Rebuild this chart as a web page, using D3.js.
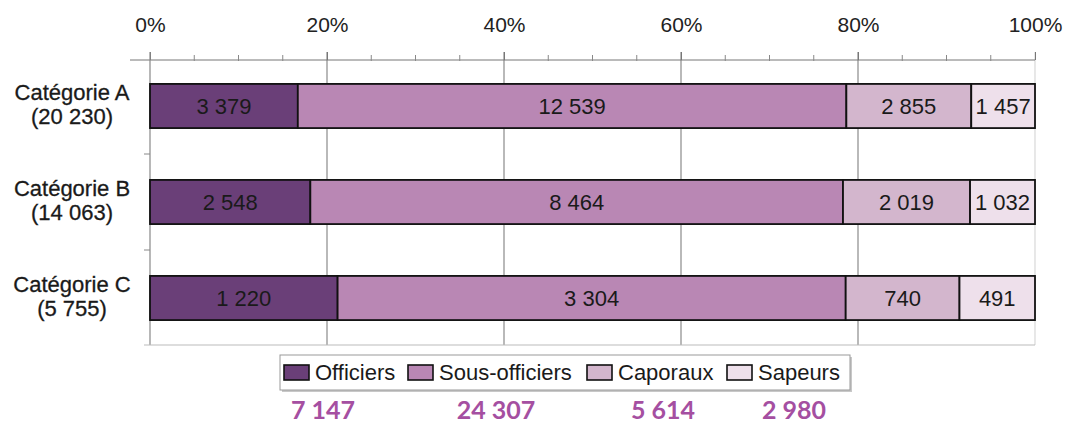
<!DOCTYPE html>
<html><head><meta charset="utf-8">
<script src="https://cdn.jsdelivr.net/npm/d3@7"></script>
<style>body{margin:0;background:#fff}svg{display:block}</style>
</head><body>
<svg id="c" width="1068" height="423"></svg>
<script>
const categories = ["Catégorie A", "Catégorie B", "Catégorie C"];
const categoryTotals = ["(20 230)", "(14 063)", "(5 755)"];
const series = ["Officiers", "Sous-officiers", "Caporaux", "Sapeurs"];
const officiers = [3379, 2548, 1220];
const sousOfficiers = [12539, 8464, 3304];
const caporaux = [2855, 2019, 740];
const sapeurs = [1457, 1032, 491];
const seriesTotals = ["7 147", "24 307", "5 614", "2 980"];
const xTicks = [0, 0.2, 0.4, 0.6, 0.8, 1];

const colors = ["#6a3f78", "#b987b4", "#d3b6cd", "#eee0eb"];
const fmt = v => d3.format(",")(v).replace(/,/g, " ");

const svg = d3.select("#c");
const x = d3.scaleLinear().domain([0, 1]).range([150, 1035]);
const y = d3.scaleBand().domain(categories).range([58, 346]).paddingInner(0.54).paddingOuter(0.27);
const yBottom = 345;

const font = "'Liberation Sans', Arial, sans-serif";

// gridlines
svg.append("g").selectAll("line").data(xTicks.slice(1)).join("line")
  .attr("x1", d => x(d)).attr("x2", d => x(d)).attr("y1", 52).attr("y2", yBottom)
  .attr("stroke", d => d === 1 ? "#d8d8d8" : "#8a8a8a").attr("stroke-width", 1.2);

// top axis
const xAxis = d3.axisTop(x).tickValues(xTicks).tickFormat(d3.format(".0%")).tickSize(8).tickPadding(20);
const gx = svg.append("g").attr("transform", "translate(0,60)").call(xAxis);
gx.select(".domain").attr("stroke", "#777").attr("d", `M${x(0)-20},0H${x(1)}`);
gx.selectAll(".tick line").attr("stroke", "#777");
gx.selectAll("text").attr("font-family", font).attr("font-size", 21).attr("fill", "#222");
// minor ticks
svg.append("g").selectAll("line").data(d3.range(0.05, 1, 0.05).filter(v => Math.round(v*100) % 20 !== 0)).join("line")
  .attr("x1", d => x(d)).attr("x2", d => x(d)).attr("y1", 55).attr("y2", 61)
  .attr("stroke", "#888");

// left axis line and category ticks
svg.append("line").attr("x1", x(0)).attr("x2", x(0)).attr("y1", 52).attr("y2", yBottom).attr("stroke", "#888").attr("stroke-width", 1.2);
svg.append("line").attr("x1", x(0) - 6).attr("x2", x(1)).attr("y1", yBottom).attr("y2", yBottom).attr("stroke", "#bbb").attr("stroke-width", 1.2);
const bounds = categories.slice(1).map(c => y(c) - y.step() * y.paddingInner() / 2);
svg.append("g").selectAll("line").data(bounds).join("line")
  .attr("x1", x(0) - 6).attr("x2", x(0)).attr("y1", d => d).attr("y2", d => d).attr("stroke", "#888");

// stacked data
const rows = categories.map((c, i) => {
  const vals = [officiers[i], sousOfficiers[i], caporaux[i], sapeurs[i]];
  const tot = d3.sum(vals);
  let acc = 0;
  return vals.map((v, j) => { const s = acc / tot; acc += v; return {cat: c, j, v, x0: s, x1: acc / tot}; });
}).flat();

const bars = svg.append("g");
bars.selectAll("rect").data(rows).join("rect")
  .attr("x", d => x(d.x0)).attr("width", d => x(d.x1) - x(d.x0))
  .attr("y", d => y(d.cat)).attr("height", y.bandwidth())
  .attr("fill", d => colors[d.j]).attr("stroke", "#111").attr("stroke-width", 1.8);
bars.selectAll("text").data(rows).join("text")
  .attr("x", d => (x(d.x0) + x(d.x1)) / 2).attr("y", d => y(d.cat) + y.bandwidth() / 2)
  .attr("dy", "0.36em").attr("text-anchor", "middle")
  .attr("font-family", font).attr("font-size", 22).attr("fill", "#1a1a1a")
  .text(d => fmt(d.v));

// category labels
const cl = svg.append("g").selectAll("text").data(categories).join("text")
  .attr("text-anchor", "middle").attr("font-family", font).attr("font-size", 22).attr("fill", "#1a1a1a")
  .attr("stroke", "#1a1a1a").attr("stroke-width", 0.3);
cl.append("tspan").attr("x", 72).attr("y", d => y(d) + y.bandwidth() / 2 - 6).text(d => d);
cl.append("tspan").attr("x", 72).attr("y", (d, i) => y(d) + y.bandwidth() / 2 + 18).text((d, i) => categoryTotals[i]);

// legend
svg.append("rect").attr("x", 282).attr("y", 357).attr("width", 570).attr("height", 35).attr("fill", "#c8c8c8");
svg.append("rect").attr("x", 280).attr("y", 355).attr("width", 570).attr("height", 35).attr("fill", "#fff").attr("stroke", "#999");
const legX = [284, 408, 587, 727];
const lg = svg.append("g").selectAll("g").data(series).join("g")
  .attr("transform", (d, i) => `translate(${legX[i]},365)`);
lg.append("rect").attr("width", 25).attr("height", 15).attr("fill", (d, i) => colors[i]).attr("stroke", "#111").attr("stroke-width", 1.6);
lg.append("text").attr("x", 31).attr("y", 7.5).attr("dy", "0.36em")
  .attr("font-family", font).attr("font-size", 22).attr("fill", "#1a1a1a").text(d => d);

// series totals
const totX = [323, 496, 663, 794];
svg.append("g").selectAll("text").data(seriesTotals).join("text")
  .attr("x", (d, i) => totX[i]).attr("y", 410).attr("dy", "0.36em").attr("text-anchor", "middle")
  .attr("font-family", "Lato, 'Open Sans', sans-serif").attr("font-weight", 700).attr("font-size", 25)
  .attr("fill", "#a54fa1").text(d => d);
</script>
</body></html>
